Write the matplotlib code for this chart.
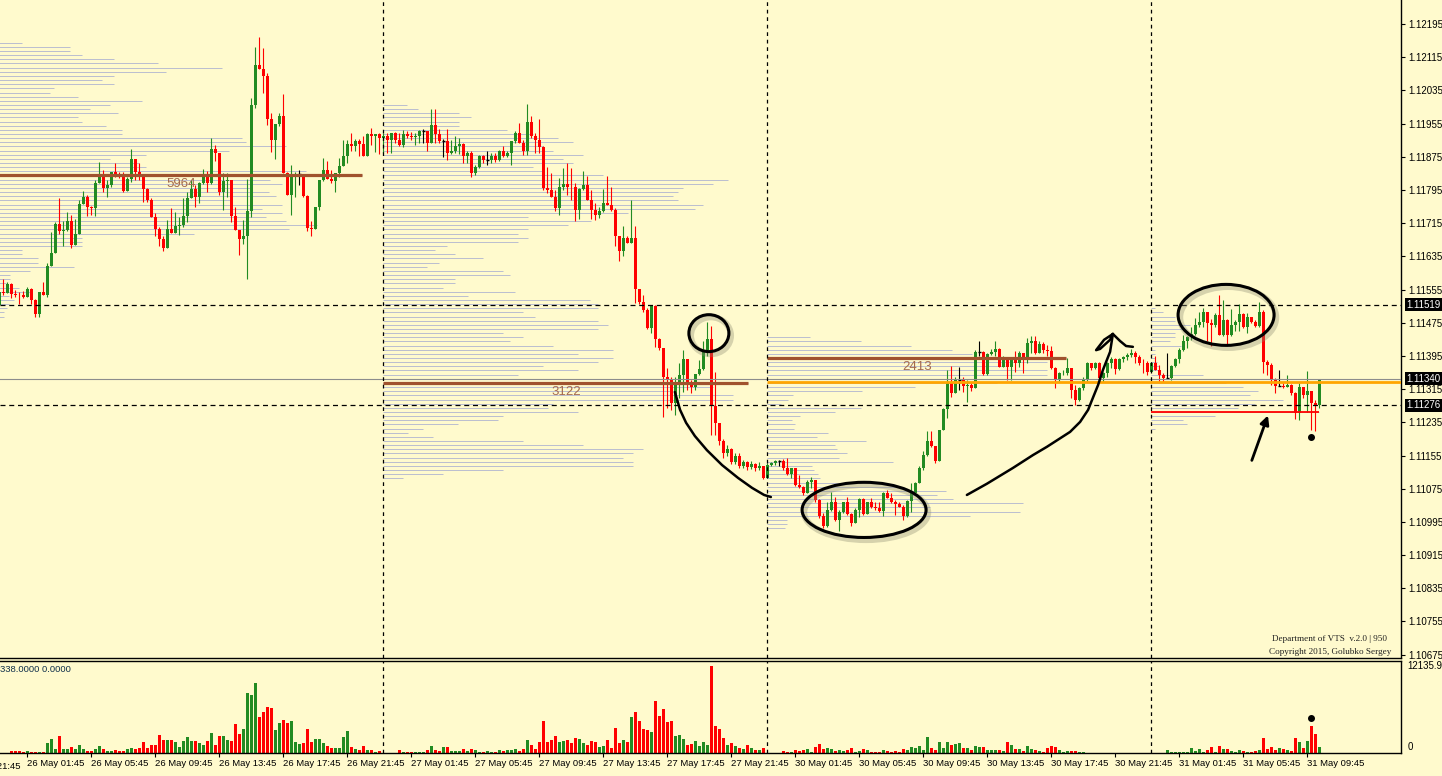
import numpy as np
import matplotlib.pyplot as plt
from matplotlib.patches import Ellipse
from matplotlib.transforms import blended_transform_factory

# prices are in points above 1.10000 (1 point = 0.00001), M15 bars from 26 May 00:00
open0 = 1518
closes = [1549,1547,1569,1545,1543,1541,1537,1557,1529,1497,
          1549,1541,1612,1643,1713,1697,1699,1720,1663,1689,
          1762,1778,1753,1751,1811,1831,1801,1807,1839,1827,
          1826,1793,1822,1870,1839,1831,1797,1770,1731,1701,
          1677,1655,1701,1691,1709,1710,1733,1775,1798,1779,
          1813,1831,1813,1894,1884,1791,1817,1818,1733,1699,
          1678,1684,1745,2000,2096,2087,2071,1966,1916,1954,
          1973,1835,1783,1827,1834,1834,1781,1703,1701,1753,
          1819,1843,1822,1817,1835,1853,1877,1906,1900,1912,
          1906,1877,1930,1925,1929,1920,1925,1916,1932,1916,
          1904,1930,1924,1922,1926,1937,1937,1909,1952,1930,
          1912,1912,1885,1889,1901,1905,1876,1885,1835,1851,
          1878,1867,1867,1878,1867,1889,1877,1884,1912,1932,
          1909,1888,1960,1926,1916,1898,1799,1795,1779,1751,
          1803,1810,1803,1802,1747,1797,1807,1771,1747,1735,
          1745,1763,1759,1747,1683,1647,1679,1668,1679,1556,
          1524,1506,1462,1516,1435,1414,1345,1339,1281,1329,
          1350,1387,1333,1319,1352,1363,1410,1435,1275,1233,
          1190,1160,1170,1140,1155,1130,1140,1128,1135,1125,
          1130,1102,1131,1138,1141,1141,1124,1111,1124,1084,
          1079,1064,1092,1095,1048,1010,984,1024,1042,1000,
          1020,1044,1014,992,1024,1051,1014,1042,1032,1028,
          1022,1064,1052,1043,1038,1032,1010,1046,1064,1090,
          1124,1157,1189,1177,1141,1217,1267,1329,1305,1336,
          1336,1323,1325,1317,1404,1404,1352,1400,1404,1411,
          1369,1390,1369,1385,1377,1402,1385,1427,1430,1403,
          1424,1410,1406,1365,1337,1353,1355,1365,1313,1289,
          1317,1339,1377,1365,1379,1341,1353,1377,1387,1363,
          1387,1392,1397,1403,1393,1379,1377,1357,1379,1361,
          1349,1341,1341,1371,1387,1410,1432,1440,1448,1470,
          1478,1500,1475,1470,1494,1446,1482,1446,1470,1478,
          1495,1464,1490,1478,1467,1500,1381,1373,1337,1323,
          1323,1321,1325,1305,1257,1321,1301,1311,1281,1277,
          1340]
highs = [1549,1580,1574,1570,1554,1550,1551,1562,1560,1532,
         1549,1573,1619,1694,1717,1775,1721,1742,1735,1725,
         1771,1793,1782,1757,1819,1863,1843,1819,1839,1860,
         1839,1839,1827,1894,1870,1860,1831,1799,1775,1739,
         1707,1683,1723,1751,1741,1731,1775,1791,1819,1807,
         1815,1845,1842,1920,1904,1884,1835,1835,1817,1755,
         1699,1723,1821,2016,2139,2163,2138,2076,1980,1954,
         1980,2027,1839,1855,1839,1843,1830,1783,1721,1755,
         1819,1873,1866,1843,1835,1873,1916,1916,1932,1917,
         1917,1925,1932,1945,1929,1932,1932,1933,1933,1936,
         1932,1940,1938,1936,1932,1940,1941,1937,1990,1990,
         1941,1917,1941,1916,1925,1921,1908,1888,1888,1855,
         1880,1880,1889,1884,1884,1892,1901,1888,1912,1938,
         1957,1916,2002,1973,1933,1965,1900,1850,1835,1795,
         1823,1847,1859,1847,1811,1799,1841,1829,1795,1763,
         1755,1797,1829,1802,1751,1684,1708,1683,1771,1708,
         1556,1542,1510,1518,1518,1438,1414,1366,1345,1345,
         1378,1410,1387,1337,1352,1385,1430,1478,1467,1357,
         1233,1195,1180,1172,1160,1160,1145,1142,1142,1138,
         1140,1120,1137,1140,1145,1145,1146,1148,1124,1124,
         1108,1082,1096,1104,1076,1050,1016,1044,1068,1056,
         1024,1044,1056,1016,1028,1052,1052,1044,1052,1044,
         1044,1067,1072,1064,1048,1042,1036,1048,1088,1092,
         1129,1165,1213,1214,1178,1217,1269,1361,1372,1345,
         1369,1345,1337,1329,1410,1430,1406,1402,1412,1432,
         1414,1395,1390,1392,1406,1406,1402,1438,1442,1442,
         1430,1428,1422,1419,1369,1357,1361,1390,1365,1325,
         1321,1345,1381,1379,1381,1381,1357,1381,1392,1390,
         1390,1396,1402,1411,1408,1397,1387,1384,1381,1394,
         1373,1353,1403,1373,1390,1414,1446,1442,1466,1486,
         1502,1510,1502,1483,1498,1542,1530,1483,1508,1482,
         1520,1498,1498,1490,1482,1524,1506,1385,1377,1341,
         1360,1329,1349,1327,1307,1329,1320,1359,1311,1288,
         1340]
lows = [1515,1542,1546,1534,1538,1521,1535,1537,1520,1490,
        1489,1541,1537,1612,1644,1689,1659,1696,1656,1663,
        1688,1762,1733,1734,1733,1811,1790,1779,1803,1827,
        1823,1790,1793,1815,1819,1819,1767,1765,1729,1683,
        1660,1649,1655,1691,1691,1687,1707,1717,1775,1755,
        1763,1810,1791,1810,1866,1782,1747,1779,1719,1699,
        1639,1665,1580,1731,1992,2087,2030,1952,1886,1870,
        1950,1835,1783,1735,1779,1807,1777,1697,1685,1702,
        1747,1817,1822,1811,1790,1827,1853,1859,1888,1888,
        1877,1877,1879,1904,1886,1882,1884,1884,1885,1908,
        1900,1898,1920,1916,1904,1908,1908,1890,1909,1908,
        1908,1875,1867,1883,1885,1883,1859,1861,1827,1831,
        1847,1859,1855,1859,1863,1865,1875,1875,1855,1909,
        1908,1880,1880,1920,1885,1884,1795,1787,1779,1745,
        1735,1795,1783,1771,1721,1724,1795,1771,1724,1723,
        1727,1743,1759,1745,1659,1625,1635,1667,1668,1522,
        1521,1502,1460,1450,1416,1410,1249,1269,1265,1253,
        1293,1309,1313,1305,1313,1349,1361,1394,1205,1205,
        1180,1150,1155,1135,1135,1125,1125,1120,1122,1118,
        1120,1098,1119,1129,1131,1129,1120,1108,1100,1082,
        1076,1060,1064,1076,1044,1004,980,982,1022,998,
        972,1016,1012,986,994,1008,1012,1014,1028,1024,
        1020,1010,1052,1040,1012,1030,1000,1008,1020,1064,
        1088,1120,1153,1175,1137,1141,1217,1245,1297,1310,
        1313,1309,1285,1310,1317,1394,1349,1349,1398,1394,
        1368,1368,1337,1337,1357,1369,1355,1379,1402,1400,
        1402,1402,1394,1363,1317,1335,1349,1349,1293,1277,
        1287,1313,1335,1361,1363,1339,1333,1345,1365,1352,
        1361,1381,1386,1392,1377,1373,1353,1349,1357,1360,
        1333,1333,1341,1337,1368,1379,1406,1414,1434,1446,
        1466,1466,1430,1419,1466,1446,1442,1419,1442,1456,
        1454,1462,1450,1474,1466,1466,1353,1349,1325,1305,
        1323,1317,1321,1301,1243,1241,1293,1261,1217,1213,
        1269]
volumes = [0,0,0,180,180,180,50,180,90,30,
           90,50,1300,1860,460,2340,560,460,740,560,
           1020,460,180,180,560,880,460,180,180,320,
           180,180,460,600,520,600,1440,600,1020,1020,
           2420,1720,1720,1720,1440,740,1580,2140,1580,1580,
           1300,1020,1580,2700,1020,2340,2340,1720,1580,3960,
           2560,3260,8440,8160,9840,4940,5780,6480,6260,3120,
           4100,4520,4100,4380,1440,1160,1300,3260,1440,1860,
           1860,1300,880,600,600,600,2140,2980,740,460,
           320,880,320,320,40,180,0,0,0,0,
           320,140,40,40,40,40,40,320,880,320,
           180,740,740,180,180,180,460,180,460,320,
           40,40,180,40,40,320,180,320,320,460,
           180,460,1720,1020,460,1440,4380,1440,1720,2280,
           1440,1580,1720,1300,2000,1860,1300,1020,1580,1440,
           740,880,1720,600,3400,1300,1720,1440,4940,5780,
           4380,3260,3120,2840,7320,5080,6200,4240,4380,2280,
           2420,1860,1020,1160,1580,880,1440,1020,12136,3680,
           3260,2000,1020,1300,880,600,460,1020,600,320,
           320,600,0,0,0,0,240,90,30,370,
           240,420,510,90,840,1260,510,700,510,240,
           420,280,420,700,90,240,560,420,140,140,
           140,420,280,140,280,30,560,420,840,700,
           980,420,2240,700,420,1540,700,1540,1120,1260,
           1400,700,700,420,980,840,840,420,420,420,
           420,280,1540,1120,560,560,280,980,560,420,
           280,140,700,980,840,420,140,280,280,280,
           140,140,0,0,0,0,0,0,0,0,
           0,0,0,0,0,0,0,0,0,0,
           0,0,420,60,60,140,140,30,700,280,
           560,140,420,840,140,980,560,560,280,140,
           420,280,140,30,280,420,2100,560,840,420,
           700,560,420,280,2100,1540,700,1680,3780,2660,
           840]
vol_max_label = 12135.9

days = ['26 May', '27 May', '30 May', '31 May']
bars_per_day = 96

# daily volume profiles: top level (points) and volume per 1-pip level going down
prof_top = [2150, 2000, 1440, 1510]
prof_vol = [
    [23,71,71,83,115,159,223,167,115,103,115,55,51,79,143,111,91,119,79,83,
     107,123,123,243,247,287,230,147,111,140,147,307,363,271,283,253,270,277,233,283,
     263,283,267,287,318,290,195,83,83,83,23,23,39,39,75,31,11,11,7,20,
     32,10,15,10,8,5,5],
    [24,35,76,88,76,76,124,150,175,190,160,170,200,180,190,150,160,220,345,330,
     300,295,290,295,320,312,245,145,208,185,145,135,145,135,64,52,72,100,56,44,
     120,127,72,72,60,132,85,207,215,215,140,152,215,225,215,120,140,127,170,230,
     195,230,215,160,195,135,350,365,330,290,350,350,170,165,195,120,115,75,40,25,
     50,140,200,260,250,240,250,250,120,60,20],
    [43,94,144,185,205,299,280,238,280,280,260,230,148,95,26,21,14,94,68,33,
     25,28,27,61,50,99,68,70,80,72,126,45,47,51,53,78,133,179,170,186,
     256,163,253,203,20,20,18],
    [4,12,24,24,39,35,24,24,19,30,4,4,4,6,8,8,52,60,75,92,
     107,99,132,104,87,168,64,32,36,4],
]
poc_labels = ['5964', '3122', '2413', '']
poc_colors = ['#a0522d', '#a0522d', '#a0522d', '#ff0000']

# reference levels
level_hi = 1.11519
level_lo = 1.11276
level_bid = 1.11340
level_orange = 1.11332

# ---------------------------------------------------------------
def px(p):
    return 1.1 + np.asarray(p) / 1e5

c = px(closes)
o = np.concatenate([[px(open0)], c[:-1]])
h = np.maximum(px(highs), np.maximum(o, c))
l = np.minimum(px(lows), np.minimum(o, c))
n = len(c)
idx = np.arange(n)
up = c > o
dn = c < o
dj = c == o

BG = '#fffacd'
GREEN = '#228b22'
RED = '#ff0000'
PROF = '#bcbfcf'
FONT = 'Liberation Sans'

fig = plt.figure(figsize=(14.42, 7.76), dpi=100, facecolor=BG)
W, H = 1442.0, 776.0
ax = fig.add_axes([0, 1 - 658 / H, 1401 / W, 658 / H], facecolor=BG)
axv = fig.add_axes([0, 1 - 752.5 / H, 1401 / W, (752.5 - 660.5) / H], facecolor=BG)

xlo, xhi = 0.175, 350.43
ax.set_xlim(xlo, xhi)
axv.set_xlim(xlo, xhi)
ax.set_ylim(1.10667, 1.12253)
axv.set_ylim(0, vol_max_label * 92.3 / 86.3)

# volume profiles
for d in range(4):
    x0 = d * bars_per_day
    vols = np.array(prof_vol[d], dtype=float)
    lev = px(prof_top[d] - 10 * np.arange(len(vols)))
    ax.hlines(lev, x0, x0 + vols / 4.0, colors=PROF, lw=0.72, zorder=1)

# candles
bw = 0.75
minh = 0.000012
ax.vlines(idx[up], l[up], h[up], colors=GREEN, lw=0.8, zorder=3)
ax.vlines(idx[dn], l[dn], h[dn], colors=RED, lw=0.8, zorder=3)
ax.vlines(idx[dj], l[dj], h[dj], colors='black', lw=0.8, zorder=3)
ax.bar(idx[up], np.maximum(c[up] - o[up], minh), bw, bottom=o[up], color=GREEN, lw=0, zorder=4)
ax.bar(idx[dn], np.maximum(o[dn] - c[dn], minh), bw, bottom=c[dn], color=RED, lw=0, zorder=4)
ax.hlines(c[dj], idx[dj] - bw / 2, idx[dj] + bw / 2, colors='black', lw=1.0, zorder=4)

# POC lines + labels
for d in range(4):
    x0 = d * bars_per_day
    vols = np.array(prof_vol[d], dtype=float)
    k = int(np.argmax(vols))
    lev = px(prof_top[d] - 10 * k)
    lw = 2.3 if d < 3 else 1.3
    ax.hlines(lev, x0, x0 + vols[k] / 4.0, colors=poc_colors[d], lw=lw, zorder=5)
    if poc_labels[d]:
        t = ax.annotate(poc_labels[d], (x0 + vols[k] / 8.0, lev), xytext=(0, -2),
                        textcoords='offset points', ha='center', va='top',
                        fontsize=9.5, color='#a46a4e', family=FONT)
        t.set_zorder(9)

ax.hlines(level_orange, 2 * bars_per_day, xhi, colors='#ffa500', lw=2.0, zorder=5)
ax.axhline(level_bid, color='#8c8c8c', lw=0.8, zorder=5)
for lv in (level_hi, level_lo):
    ax.axhline(lv, color='black', lw=0.9, ls=(0, (4, 3)), zorder=6)
for a in (ax, axv):
    for d in range(1, 4):
        a.axvline(d * bars_per_day, color='black', lw=0.9, ls=(0, (3, 3)), zorder=6)

# volume bars
vols = np.array(volumes, dtype=float)
vcol = np.where(c >= o, GREEN, RED)
axv.bar(idx, vols, 0.78, color=vcol, lw=0, zorder=2)

# hand drawn marks
ink = dict(color='black', lw=1.8, solid_capstyle='round', zorder=8)
for (cx, cy, ew, eh) in [(177.4, 1.11450, 10, 0.00089), (216.2, 1.11024, 31, 0.00133),
                         (306.7, 1.11494, 24, 0.00147)]:
    ax.add_patch(Ellipse((cx + 0.5, cy - 0.00006), ew, eh, fill=False, ec='#8a8a70',
                         lw=4.5, alpha=0.35, zorder=7))
    ax.add_patch(Ellipse((cx, cy), ew, eh, fill=False, ec='black', lw=2.2, zorder=8))

arc_x = [168.9, 170.2, 171.7, 173.9, 176.9, 180.7, 184.7, 188.2, 191.2, 192.9]
arc_y = [1308, 1265, 1234, 1202, 1168, 1132, 1101, 1077, 1060, 1055]
ax.plot(arc_x, px(arc_y), **ink)
rise_x = [241.9, 246.9, 253.4, 258.4, 261.9, 267.7, 270.2, 272.2, 273.4, 274.7, 275.9, 277.7, 278.4]
rise_y = [1060, 1087, 1125, 1156, 1176, 1212, 1236, 1265, 1294, 1325, 1361, 1405, 1448]
ax.plot(rise_x, px(rise_y), **ink)
ax.plot([278.4, 276.2, 274.2, 275.2, 277.7, 278.4], px([1448, 1434, 1409, 1412, 1434, 1448]), **ink)
ax.plot([278.4, 280.2, 281.7, 283.4], px([1448, 1431, 1419, 1417]), **ink)
ax.annotate('', xy=(317.4, px(1258)), xytext=(312.9, px(1137)),
            arrowprops=dict(arrowstyle='-|>', color='black', lw=2.0, mutation_scale=13),
            zorder=8)
ax.plot(328, px(1200), 'o', color='black', ms=4, zorder=8)
axv.plot(328, 4820, 'o', color='black', ms=4, zorder=8)

# axes styling
for a in (ax, axv):
    for s in a.spines.values():
        s.set_color('black')
        s.set_linewidth(1.0)
    a.spines['left'].set_visible(False)
ax.spines['top'].set_visible(False)

ax.yaxis.tick_right()
ax.set_xticks([])
ticks = [1.10675 + 0.0008 * k for k in range(20)]
ax.set_yticks(ticks)
ax.set_yticklabels(['%.5f' % t for t in ticks], fontsize=7.0, family=FONT)
ax.tick_params(axis='y', direction='out', length=3, width=0.8, pad=2)

tr = blended_transform_factory(ax.transAxes, ax.transData)
for lv in (level_hi, level_bid, level_lo):
    ax.text(1.0040, lv, '%.5f' % lv, transform=tr, fontsize=7.0, family=FONT, color='white',
            va='center', ha='left', zorder=10,
            bbox=dict(boxstyle='square,pad=0.15', fc='black', ec='none'))

axv.set_yticks([])
trv = blended_transform_factory(axv.transAxes, axv.transData)
axv.text(1.0045, vol_max_label, '%.1f' % vol_max_label, transform=trv, fontsize=7.0,
         family=FONT, va='center', ha='left')
axv.text(1.0045, 0, '0', transform=trv, fontsize=7.0, family=FONT, va='bottom', ha='left')
axv.text(0.0, 0.9, '338.0000 0.0000', transform=axv.transAxes, fontsize=6.8, family=FONT,
         color='#10304a', va='center', ha='left')

xt = list(range(7, n, 16))
xl = []
for i in xt:
    m = (i % bars_per_day) * 15
    xl.append('%s %02d:%02d' % (days[i // bars_per_day], m // 60, m % 60))
axv.set_xticks(xt)
axv.set_xticklabels(xl, fontsize=6.8, family=FONT, ha='left')
axv.tick_params(axis='x', direction='out', length=3, width=0.8, pad=2)
axv.text(-9, -0.1, '25 May 21:45', transform=blended_transform_factory(axv.transData, axv.transAxes),
         fontsize=6.8, family=FONT, ha='left', va='top', clip_on=False)

fig.text(1330 / W, 1 - 639 / H, 'Department of VTS  v.2.0 | 950', fontsize=6.6,
         family='Liberation Serif', ha='center', va='center', color='#202020')
fig.text(1330 / W, 1 - 652 / H, 'Copyright 2015, Golubko Sergey', fontsize=6.6,
         family='Liberation Serif', ha='center', va='center', color='#202020')

fig.savefig('out.png', dpi=100, facecolor=BG)
